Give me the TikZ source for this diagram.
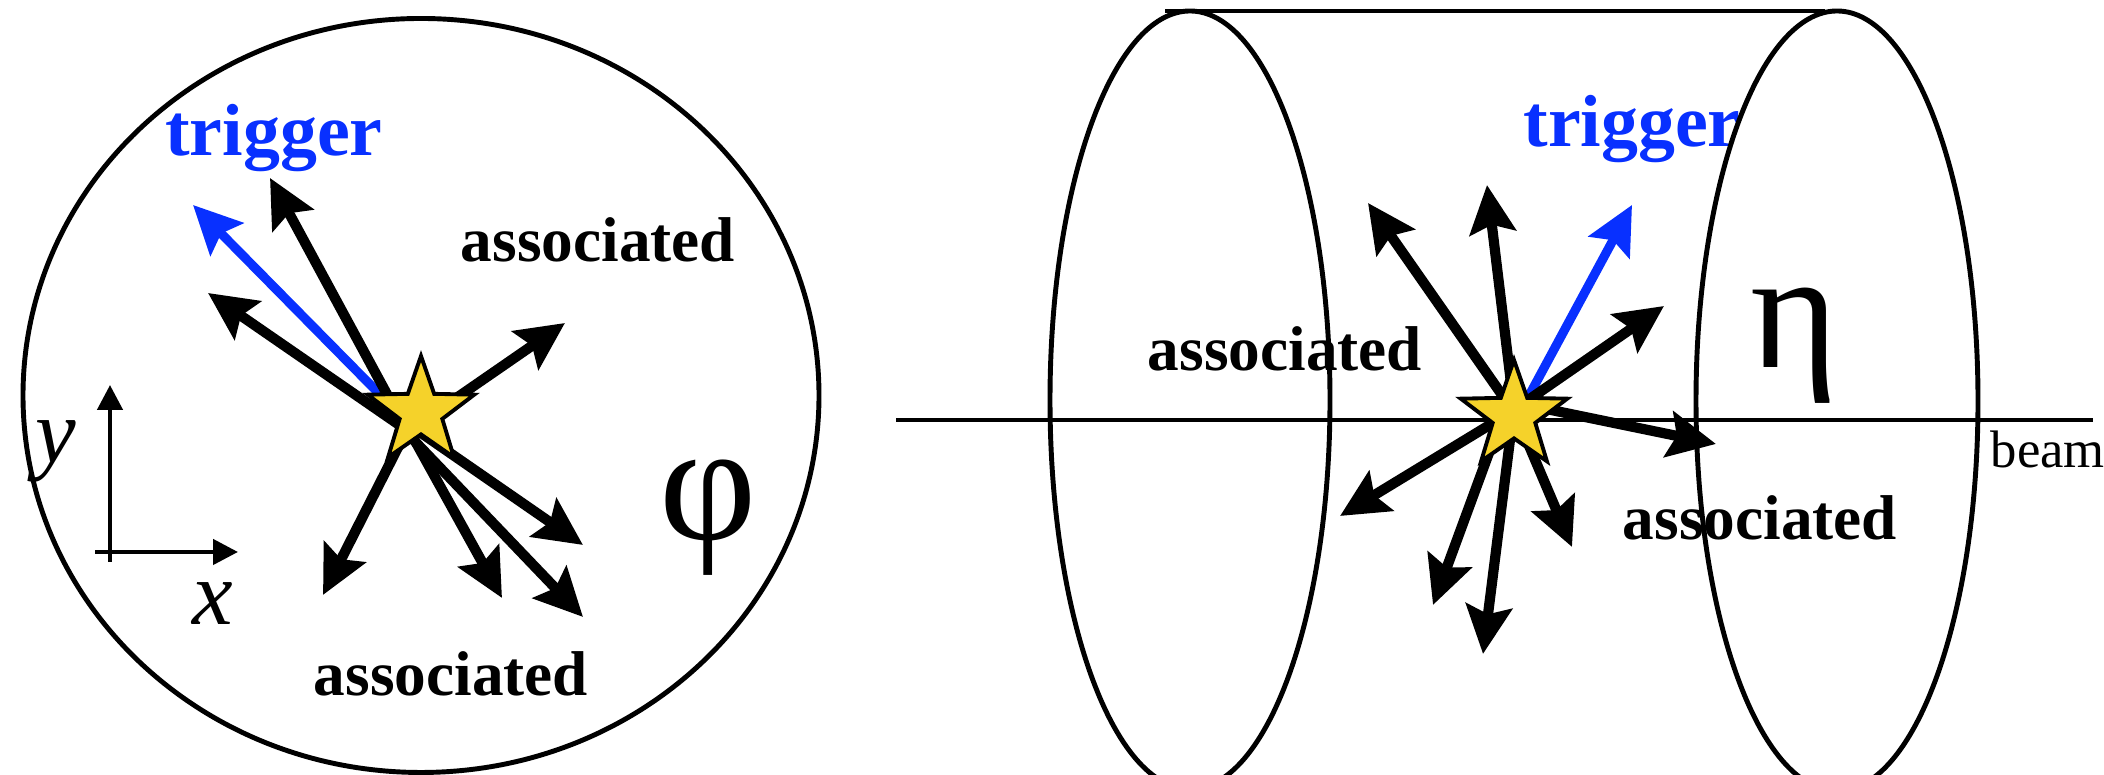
\documentclass[tikz,border=0pt]{standalone}
\usepackage{fontspec}
\setmainfont{Liberation Serif}
\usepackage{tikz}
\usetikzlibrary{arrows.meta, shapes.geometric}
\definecolor{trigblue}{RGB}{8,48,255}
\definecolor{staryellow}{RGB}{245,210,42}

\begin{document}
\begin{tikzpicture}[
  lbl/.style={font=\bfseries\fontsize{18}{20}\selectfont, anchor=base, inner sep=0pt},
  trig/.style={font=\bfseries\fontsize{21}{24}\selectfont, text=trigblue, anchor=base, inner sep=0pt},
  greek/.style={font=\fontsize{48}{52}\selectfont, anchor=base, inner sep=0pt},
  axlbl/.style={font=\itshape\fontsize{26}{28}\selectfont, anchor=base, inner sep=0pt},
  rim/.style={line width=1.4pt},
  arr/.style={-{Stealth[length=0.48cm, width=0.46cm, inset=0.08cm]}, line width=2.9pt},
  trg/.style={arr, trigblue, line width=2.6pt},
  vtx/.style={star, star points=5, star point ratio=2.5, minimum size=1.12cm, inner sep=0pt, draw, line width=1.1pt, fill=staryellow},
  ax/.style={-{Triangle[length=0.25cm, width=0.25cm]}, line width=1.3pt}
]
\useasboundingbox (0,0) rectangle (21.04,7.75);

% Transverse plane
\draw[rim] (4.21,3.795) ellipse [x radius=3.98, y radius=3.77];
\coordinate (sl) at (4.21,3.63);

% Axes
\coordinate (ybot) at (1.10,2.13);
\coordinate (ytop) at (1.10,3.90);
\coordinate (xleft) at (0.95,2.23);
\coordinate (xright) at (2.38,2.23);
\draw[ax] (ybot) -- (ytop);
\draw[ax] (xleft) -- (xright);
\node[axlbl] (ylbl) at (0.56,3.12) {y};
\node[axlbl] (xlbl) at (2.13,1.50) {x};

% Labels left
\node[trig] (trl) at (2.74,6.19) {trigger};
\node[lbl] (asl1) at (5.98,5.13) {associated};
\node[lbl] (asl2) at (4.51,0.79) {associated};
\node[greek] (phi) at (7.08,2.35) {φ};

% Tracks left
\draw[trg] ([shift={(-0.12,-0.12)}]sl) -- ([shift={(-2.28,2.07)}]sl);
\foreach \tx/\ty/\hx/\hy in {-0.19/-0.10/-1.51/2.34, -0.13/-0.19/-2.13/1.19,
  0.05/-0.07/1.44/0.89, -0.04/0.02/-0.98/-1.83, -0.10/-0.14/1.62/-1.33,
  -0.17/-0.09/0.81/-1.86, -0.18/-0.17/1.62/-2.05}
  \draw[arr] ([shift={(\tx,\ty)}]sl) -- ([shift={(\hx,\hy)}]sl);
\node[vtx] (vl) at (sl) {};

% Labels right
\node[trig] (trr) at (16.32,6.28) {trigger};
\node[lbl] (asr1) at (12.85,4.04) {associated};
\node[lbl] (asr2) at (17.60,2.35) {associated};
\node[greek] (eta) at (17.95,4.07) {η};
\node[anchor=base west, inner sep=0pt, font=\fontsize{15}{18}\selectfont] (beam) at (19.90,3.07) {beam};

% Cylinder
\draw[rim] (11.90,3.75) ellipse [x radius=1.40, y radius=3.89];
\draw[rim] (18.37,3.74) ellipse [x radius=1.41, y radius=3.90];
\coordinate (topl) at (11.65,7.64);
\coordinate (topr) at (18.25,7.64);
\draw[rim] (topl) -- (topr);

% Beam axis
\coordinate (bl) at (8.96,3.55);
\coordinate (br) at (20.93,3.55);
\draw[rim] (bl) -- (br);
\coordinate (sr) at (15.14,3.59);

% Tracks right
\draw[trg] ([shift={(0.03,-0.02)}]sr) -- ([shift={(1.18,2.11)}]sr);
\foreach \tx/\ty/\hx/\hy in {0.02/0.01/-1.46/2.13, 0.01/0/-0.27/2.31,
  -0.03/0.04/1.50/1.10, 0.03/0.13/2.02/-0.28, 0.02/0.01/0.58/-1.31,
  -0.01/0/-0.31/-2.38, -0.10/0.04/-0.81/-1.89, -0.03/0.04/-1.74/-1.00}
  \draw[arr] ([shift={(\tx,\ty)}]sr) -- ([shift={(\hx,\hy)}]sr);
\node[vtx] (vr) at (sr) {};
\end{tikzpicture}
\end{document}
